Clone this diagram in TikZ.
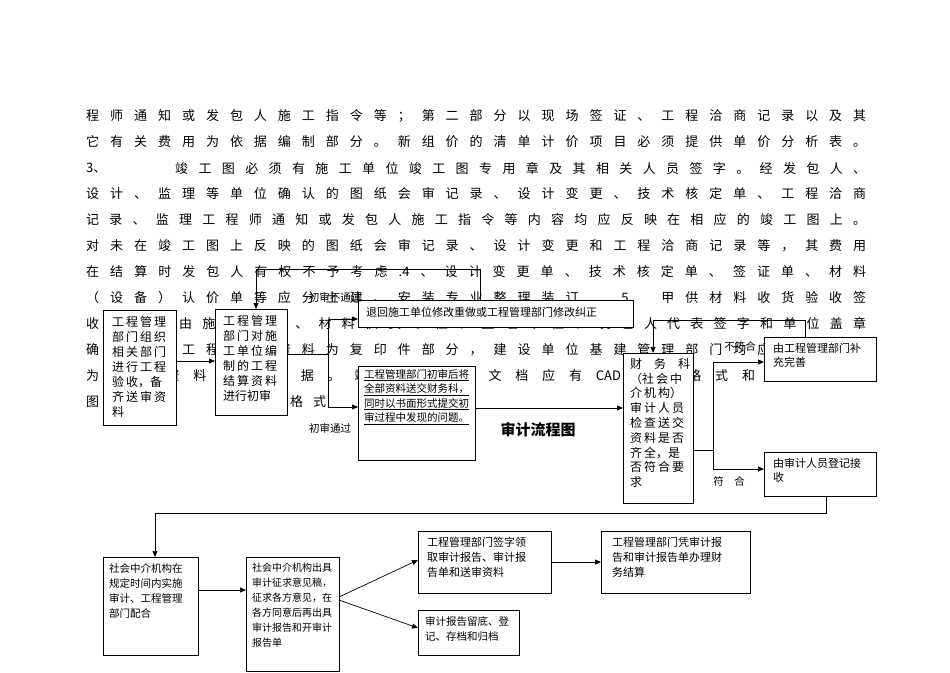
\documentclass[tikz,border=0pt]{standalone}
\usepackage{fontspec}
\setmainfont{Noto Sans CJK SC}
\usetikzlibrary{arrows.meta}
\begin{document}
\begin{tikzpicture}[x=1pt,y=-1pt,
 bx/.style={draw,fill=white,line width=0.8pt},
 tx/.style={anchor=north west,inner sep=0,align=left},
 ln/.style={anchor=west,inner sep=0,font=\fontsize{13}{13}\selectfont},
 ar/.style={-{Triangle[length=6pt,width=5pt]},line width=0.7pt},
 pl/.style={line width=0.7pt},
 lb/.style={inner sep=0,font=\fontsize{10.5}{11}\selectfont}]
\useasboundingbox (0,0) rectangle (950,672);
\newcommand{\jl}[2]{\node[ln] (l#1) at (86,#1) {\makebox[780pt][s]{#2}};}
\jl{116}{程 师 通 知 或 发 包 人 施 工 指 令 等 ； 第 二 部 分 以 现 场 签 证 、 工 程 洽 商 记 录 以 及 其}
\jl{142}{它 有 关 费 用 为 依 据 编 制 部 分 。 新 组 价 的 清 单 计 价 项 目 必 须 提 供 单 价 分 析 表 。}
\node[ln] (l3a) at (86,168) {3、};
\node[ln] (l3b) at (175,168) {\makebox[691pt][s]{竣 工 图 必 须 有 施 工 单 位 竣 工 图 专 用 章 及 其 相 关 人 员 签 字 。 经 发 包 人 、}};
\jl{194}{设 计 、 监 理 等 单 位 确 认 的 图 纸 会 审 记 录 、 设 计 变 更 、 技 术 核 定 单 、 工 程 洽 商}
\jl{220}{记 录 、 监 理 工 程 师 通 知 或 发 包 人 施 工 指 令 等 内 容 均 应 反 映 在 相 应 的 竣 工 图 上 。}
\jl{246}{对 未 在 竣 工 图 上 反 映 的 图 纸 会 审 记 录 、 设 计 变 更 和 工 程 洽 商 记 录 等 ， 其 费 用}
\jl{272}{在 结 算 时 发 包 人 有 权 不 予 考 虑 .4 、 设 计 变 更 单 、 技 术 核 定 单 、 签 证 单 、 材 料}
\jl{298}{（ 设 备 ） 认 价 单 等 应 分 土 建 、 安 装 专 业 整 理 装 订 . 5 \ \ 甲 供 材 料 收 货 验 收 签}
\jl{324}{收 货 单 应 由 施 工 单 位 、 材 料 供 货 单 位 、 监 理 单 位 、 发 包 人 代 表 签 字 和 单 位 盖 章}
\jl{350}{确 认 。 对 工 程 结 算 资 料 为 复 印 件 部 分 ， 建 设 单 位 基 建 管 理 部 门 均 应 加 盖 公 章}
\jl{376}{为 结 算 资 料 有 效 依 据 。 竣 工 图 电 子 文 档 应 有 CAD 文 件 格 式 和 Excel格 式 、}
\node[ln] (l12a) at (86,402) {图};
\node[ln] (l12b) at (290,402) {格\hspace{10pt}式};
\node[inner sep=0,font=\fontsize{15}{15}\selectfont\bfseries] (title) at (538,430) {审计流程图};
% boxes
\node[bx,minimum width=73pt,minimum height=115pt,anchor=north west] (b1) at (103,310) {};
\node[tx,font=\fontsize{12}{15}\selectfont] at (112,316) {工\,程\,管\,理\\部\,门\,组\,织\\相\,关\,部\,门\\进\,行\,工\,程\\验\,收，备\\齐\,送\,审\,资\\料};
\node[bx,minimum width=72pt,minimum height=106pt,anchor=north west] (b2) at (215,309) {};
\node[tx,font=\fontsize{12}{15}\selectfont] at (223,315) {工\,程\,管\,理\\部\,门\,对\,施\\工\,单\,位\,编\\制\,的\,工\,程\\结\,算\,资\,料\\进行初审};
\node[bx,minimum width=275pt,minimum height=27pt,anchor=north west] (b3) at (358,300) {};
\node[tx,font=\fontsize{11}{13}\selectfont] at (366,307) {退回施工单位修改重做或工程管理部门修改纠正};
\node[bx,minimum width=117pt,minimum height=94pt,anchor=north west] (b4) at (358,366) {};
\node[tx,font=\fontsize{10.5}{14.5}\selectfont] at (364,369) {\underline{工程管理部门初审后将}\\\underline{全部资料送交财务科，}\\\underline{同时以书面形式提交初}\\\underline{审过程中发现的问题。}};
\node[bx,minimum width=70pt,minimum height=150pt,anchor=north west] (b5) at (623,353) {};
\node[tx,font=\fontsize{12}{14.8}\selectfont] at (630,358) {财\quad 务\quad 科\\（社\,会\,中\\介\,机\,构）\\审\,计\,人\,员\\检\,查\,送\,交\\资\,料\,是\,否\\齐\,全，是\\否\,符\,合\,要\\求};
\node[bx,minimum width=112pt,minimum height=44pt,anchor=north west] (b6) at (764,337) {};
\node[tx,font=\fontsize{11}{14}\selectfont] at (773,343) {由工程管理部门补\\充完善};
\node[bx,minimum width=112pt,minimum height=44pt,anchor=north west] (b7) at (764,452) {};
\node[tx,font=\fontsize{11}{14}\selectfont] at (773,458) {由审计人员登记接\\收};
\node[bx,minimum width=95pt,minimum height=98pt,anchor=north west] (b8) at (103,557) {};
\node[tx,font=\fontsize{10.5}{15}\selectfont] at (109,563) {社会中介机构在\\规定时间内实施\\审计、工程管理\\部门配合};
\node[bx,minimum width=93pt,minimum height=114pt,anchor=north west] (b9) at (246,557) {};
\node[tx,font=\fontsize{10}{15}\selectfont] at (252,563) {社会中介机构出具\\审计征求意见稿，\\征求各方意见，在\\各方同意后再出具\\审计报告和开审计\\报告单};
\node[bx,minimum width=133pt,minimum height=62pt,anchor=north west] (b10) at (418,531) {};
\node[tx,font=\fontsize{11}{15}\selectfont] at (427,537) {工程管理部门签字领\\取审计报告、审计报\\告单和送审资料};
\node[bx,minimum width=149pt,minimum height=62pt,anchor=north west] (b11) at (601,531) {};
\node[tx,font=\fontsize{11}{15}\selectfont] at (612,537) {工程管理部门凭审计报\\告和审计报告单办理财\\务结算};
\node[bx,minimum width=101pt,minimum height=45pt,anchor=north west] (b12) at (418,610) {};
\node[tx,font=\fontsize{10.5}{15}\selectfont] at (425,616) {审计报告留底、登\\记、存档和归档};
% connectors
\draw[ar] (b1.east |- 0,361) -- (b2.west |- 0,361);
\coordinate (j1) at (328,354);
\draw[pl] (b2.east |- j1) -- (j1);
\draw[ar] (j1) |- (b3.west |- 0,319);
\draw[ar] (j1) |- (b4.west |- 0,407);
\coordinate (t1) at (480,269);
\draw[ar] (b3.north -| t1) -- (t1) -| (256,309);
\node[lb] (n1) at (335,297) {初审不通过};
\node[lb] (n2) at (330,428) {初审通过};
\draw[ar] (b4.east |- 0,408) -- (b5.west |- 0,408);
\coordinate (j2) at (713,450);
\draw[pl] (b5.east |- j2) -- (j2);
\draw[ar] (j2) |- (b6.west |- 0,362);
\draw[ar] (j2) |- (b7.west |- 0,469);
\coordinate (t2) at (805,320);
\draw[ar] (b6.north -| t2) -- (t2) -| (653,353);
\node[lb] (n3) at (740,346) {不符合};
\node[lb] (n4) at (729,481) {符\quad 合};
\coordinate (t3) at (826,513);
\draw[ar] (b7.south -| t3) -- (t3) -| (155,557);
\draw[ar] (b8.east |- 0,590) -- (b9.west |- 0,590);
\draw[ar] (339,597) -- (418,560);
\draw[ar] (339,600) -- (418,628);
\draw[ar] (b10.east |- 0,562) -- (b11.west |- 0,562);
\end{tikzpicture}
\end{document}
